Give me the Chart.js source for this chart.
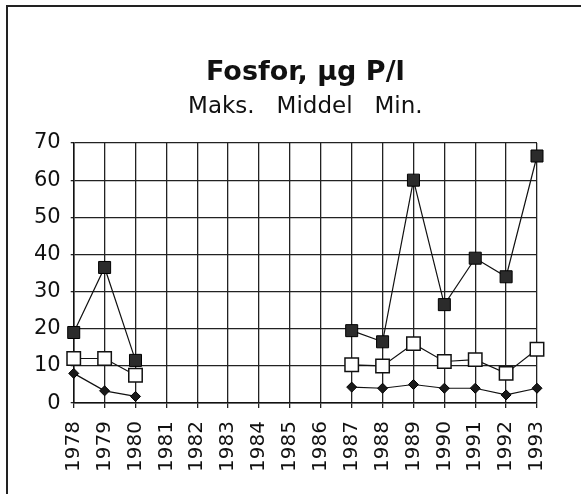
<!DOCTYPE html>
<html>
<head>
<meta charset="utf-8">
<script src="https://cdn.jsdelivr.net/npm/chart.js@4"></script>
<style>
  body { margin: 0; background: #fff; }
  #wrap { position: relative; width: 581px; height: 494px; }
  #frame { position: absolute; left: 6px; top: 5px; right: 0; bottom: 0;
           border-left: 2px solid #222; border-top: 2px solid #222; }
  canvas { position: absolute; left: 0; top: 0; }
</style>
</head>
<body>
<div id="wrap">
  <div id="frame"></div>
  <canvas id="chart" width="581" height="494"></canvas>
</div>
<script>
// years on the x axis
var years = ['1978', '1979', '1980', '1981', '1982', '1983', '1984', '1985',
             '1986', '1987', '1988', '1989', '1990', '1991', '1992', '1993'];

// phosphorus, ug P/l (null = no measurement)
var maks   = [19, 36.5, 11.5, null, null, null, null, null, null, 19.5, 16.5, 60, 26.5, 39, 34, 66.5];
var middel = [12, 12, 7.5, null, null, null, null, null, null, 10.3, 10, 16, 11.2, 11.7, 8, 14.5];
var minVal = [8, 3.3, 1.8, null, null, null, null, null, null, 4.3, 4, 5, 4, 4, 2.2, 4];

var yTicks = [0, 10, 20, 30, 40, 50, 60, 70];

var font = 'DejaVu Sans';

var ctx = document.getElementById('chart').getContext('2d');
var chart = new Chart(ctx, {
  type: 'line',
  data: {
    labels: years,
    datasets: [
      {
        label: 'Middel',
        data: middel,
        borderColor: '#111',
        borderWidth: 1.2,
        pointStyle: 'rect',
        pointRadius: 9.5,
        pointBackgroundColor: '#fff',
        pointBorderColor: '#111',
        pointBorderWidth: 1.5,
        order: 1
      },
      {
        label: 'Maks',
        data: maks,
        borderColor: '#111',
        borderWidth: 1.2,
        pointStyle: 'rect',
        pointRadius: 8.5,
        pointBackgroundColor: '#2b2b2b',
        pointBorderColor: '#000',
        pointBorderWidth: 1,
        order: 2
      },
      {
        label: 'Min',
        data: minVal,
        borderColor: '#111',
        borderWidth: 1.2,
        pointStyle: 'rectRot',
        pointRadius: 5,
        pointBackgroundColor: '#1a1a1a',
        pointBorderColor: '#000',
        pointBorderWidth: 1,
        order: 3
      }
    ]
  },
  options: {
    responsive: false,
    animation: false,
    spanGaps: false,
    layout: { padding: { top: 50, left: 24, right: 44, bottom: 9 } },
    plugins: {
      legend: { display: false },
      tooltip: { enabled: false },
      title: {
        display: true,
        fullSize: false,
        text: 'Fosfor, µg P/l',
        color: '#111',
        font: { family: font, size: 27, weight: 'bold' },
        padding: { top: 7, bottom: 1 }
      },
      subtitle: {
        display: true,
        fullSize: false,
        text: 'Maks.   Middel   Min.',
        color: '#111',
        font: { family: font, size: 23 },
        padding: { top: 3, bottom: 22 }
      }
    },
    scales: {
      x: {
        offset: false,
        grid: { color: '#222', lineWidth: 1.3, tickLength: 5, drawTicks: true },
        border: { color: '#111', width: 1.5 },
        ticks: {
          color: '#111',
          minRotation: 90,
          maxRotation: 90,
          autoSkip: false,
          padding: 13,
          font: { family: font, size: 20 }
        }
      },
      y: {
        min: 0,
        max: 70,
        afterBuildTicks: function (scale) {
          scale.ticks = yTicks.map(function (v) { return { value: v }; });
        },
        grid: { color: '#222', lineWidth: 1.3, tickLength: 3 },
        border: { color: '#111', width: 1.5 },
        ticks: {
          color: '#111',
          padding: 10,
          font: { family: font, size: 21 }
        }
      }
    }
  }
});
</script>
</body>
</html>
